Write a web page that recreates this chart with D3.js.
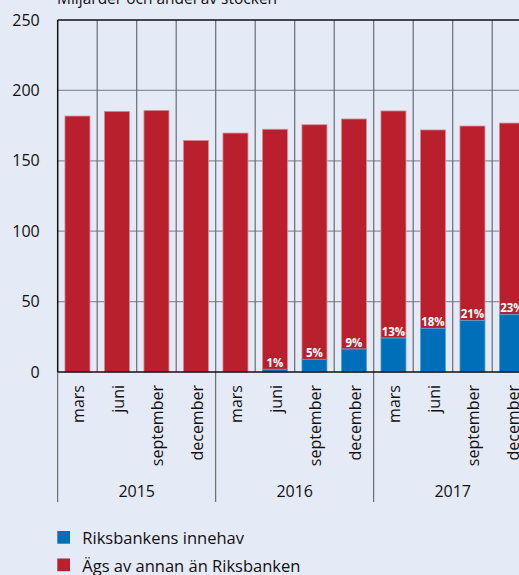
<!DOCTYPE html>
<html>
<head>
<meta charset="utf-8">
<script src="https://cdn.jsdelivr.net/npm/d3@7"></script>
<style>
  body { margin: 0; background: #e5eaf7; }
  svg { display: block; font-family: 'Open Sans', sans-serif; }
</style>
</head>
<body>
<svg id="chart" width="519" height="575"></svg>
<script>
// values in miljarder kronor
const years = ['2015', '2016', '2017'];
const months = ['mars', 'juni', 'september', 'december'];
const totals = [181.8, 185.1, 185.8, 164.5, 169.7, 172.4, 175.6, 179.7, 185.4, 171.9, 174.7, 176.8];
const riksbanken = [0, 0, 0, 0, 0, 1.9, 9.0, 16.3, 24.1, 31.0, 36.5, 40.7];
const shareLabels = ['', '', '', '', '', '1%', '5%', '9%', '13%', '18%', '21%', '23%'];
const yTicks = [0, 50, 100, 150, 200, 250];

const blue = '#006fb9';
const red = '#ba1f2d';

const svg = d3.select('#chart');
const width = +svg.attr('width');

const plotLeft = 57.7;
const colStep = 39.5;
const plotTop = 20;
const plotBottom = 372;

const data = totals.map((t, i) => ({
  i: i,
  month: months[i % 4],
  riks: riksbanken[i],
  other: t - riksbanken[i],
  total: t,
  label: shareLabels[i],
}));

const x = d3.scaleBand()
  .domain(data.map((d) => d.i))
  .range([plotLeft, plotLeft + colStep * data.length])
  .paddingInner(0.367)
  .paddingOuter(0.1835);

const y = d3.scaleLinear()
  .domain([0, 250])
  .range([plotBottom, plotTop]);

// left edge of column i (i may equal data.length for the far right edge)
const colEdge = (i) => x.range()[0] + i * x.step();

// horizontal grid
svg.append('g')
  .selectAll('line')
  .data(yTicks.filter((v) => v > 0 && v < 250))
  .enter()
  .append('line')
  .attr('x1', plotLeft)
  .attr('x2', width)
  .attr('y1', (d) => y(d))
  .attr('y2', (d) => y(d))
  .attr('stroke', '#8d9199')
  .attr('stroke-width', 1.2);

// vertical grid between columns
svg.append('g')
  .selectAll('line')
  .data(d3.range(1, data.length))
  .enter()
  .append('line')
  .attr('x1', (d) => colEdge(d))
  .attr('x2', (d) => colEdge(d))
  .attr('y1', plotTop)
  .attr('y2', plotBottom)
  .attr('stroke', '#6a6d75')
  .attr('stroke-width', 1.2);

// year separators below the axis
svg.append('g')
  .selectAll('line')
  .data(d3.range(0, data.length + 1, 4))
  .enter()
  .append('line')
  .attr('x1', (d) => colEdge(d))
  .attr('x2', (d) => colEdge(d))
  .attr('y1', plotBottom)
  .attr('y2', 502)
  .attr('stroke', '#555')
  .attr('stroke-width', 1);

// bars
const bars = svg.append('g');

bars.selectAll('.other')
  .data(data)
  .enter()
  .append('rect')
  .attr('class', 'other')
  .attr('x', (d) => x(d.i))
  .attr('width', x.bandwidth())
  .attr('y', (d) => y(d.total))
  .attr('height', (d) => y(d.riks) - y(d.total))
  .attr('fill', red)
  .attr('stroke', '#d88a94')
  .attr('stroke-width', 0.8);

bars.selectAll('.riks')
  .data(data.filter((d) => d.riks > 0))
  .enter()
  .append('rect')
  .attr('class', 'riks')
  .attr('x', (d) => x(d.i))
  .attr('width', x.bandwidth())
  .attr('y', (d) => y(d.riks))
  .attr('height', (d) => y(0) - y(d.riks))
  .attr('fill', blue)
  .attr('stroke', '#5a9fd0')
  .attr('stroke-width', 0.8);

bars.selectAll('.share')
  .data(data.filter((d) => d.label))
  .enter()
  .append('text')
  .attr('class', 'share')
  .attr('x', (d) => x(d.i) + x.bandwidth() / 2)
  .attr('y', (d) => y(d.riks) - 2.5)
  .attr('text-anchor', 'middle')
  .attr('fill', '#fff')
  .attr('font-size', 11.5)
  .attr('font-weight', 'bold')
  .text((d) => d.label);

// frame: left axis, zero line, top line
svg.append('line')
  .attr('x1', plotLeft).attr('x2', width)
  .attr('y1', plotTop).attr('y2', plotTop)
  .attr('stroke', '#111').attr('stroke-width', 1.5);
svg.append('line')
  .attr('x1', plotLeft).attr('x2', width)
  .attr('y1', plotBottom).attr('y2', plotBottom)
  .attr('stroke', '#111').attr('stroke-width', 1.5);
svg.append('line')
  .attr('x1', plotLeft).attr('x2', plotLeft)
  .attr('y1', plotTop).attr('y2', plotBottom)
  .attr('stroke', '#111').attr('stroke-width', 1.5);

// y axis labels
const yAxis = svg.append('g')
  .attr('transform', `translate(${plotLeft},0)`)
  .call(d3.axisLeft(y).tickValues(yTicks).tickSize(0).tickPadding(18));
yAxis.select('.domain').remove();
yAxis.selectAll('text')
  .attr('font-size', 16)
  .attr('font-family', 'Open Sans, sans-serif')
  .attr('fill', '#111');

// month labels
svg.append('g')
  .selectAll('text')
  .data(data)
  .enter()
  .append('text')
  .attr('transform', (d) =>
    `translate(${x(d.i) + x.bandwidth() / 2 + 1},385) rotate(-90)`)
  .attr('text-anchor', 'end')
  .attr('dy', '0.35em')
  .attr('font-size', 16)
  .attr('fill', '#111')
  .text((d) => d.month);

// year labels
svg.append('g')
  .selectAll('text')
  .data(years)
  .enter()
  .append('text')
  .attr('x', (d, k) => (colEdge(k * 4) + colEdge(k * 4 + 4)) / 2)
  .attr('y', 497)
  .attr('text-anchor', 'middle')
  .attr('font-size', 16)
  .attr('fill', '#111')
  .text((d) => d);

// title, partly outside the picture
svg.append('text')
  .attr('x', 57)
  .attr('y', 4)
  .attr('font-size', 15.5)
  .attr('fill', '#111')
  .text('Miljarder och andel av stocken');

// legend
const legend = svg.append('g')
  .selectAll('g')
  .data([
    {name: 'Riksbankens innehav', color: blue},
    {name: 'Ägs av annan än Riksbanken', color: red},
  ])
  .enter()
  .append('g')
  .attr('transform', (d, k) => `translate(57.3,${531 + k * 27.5})`);

legend.append('rect')
  .attr('width', 12.7)
  .attr('height', 12.7)
  .attr('fill', (d) => d.color);

legend.append('text')
  .attr('x', 25)
  .attr('y', 13)
  .attr('font-size', 16.5)
  .attr('fill', '#111')
  .text((d) => d.name);
</script>
</body>
</html>
